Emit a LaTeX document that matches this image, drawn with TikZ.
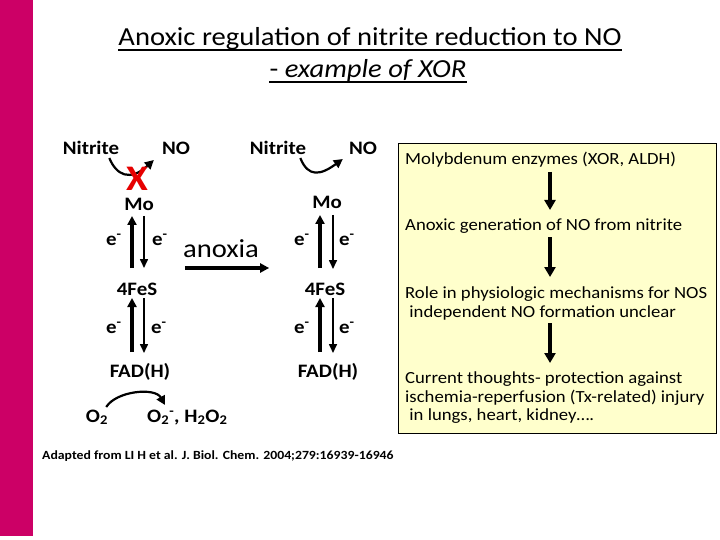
\documentclass[tikz,border=0pt]{standalone}
\usepackage{fontspec}
\setmainfont{Carlito}[FakeStretch=1.1]
\usetikzlibrary{arrows.meta,calc}
\definecolor{barmag}{RGB}{204,0,102}
\definecolor{xred}{RGB}{230,0,0}
\definecolor{boxyel}{RGB}{255,255,204}
\tikzset{
 lbl/.style={anchor=base,inner sep=0pt,font=\fontsize{19}{22}\selectfont\bfseries},
 elbl/.style={anchor=base west,inner sep=0pt,font=\fontsize{19}{22}\selectfont\bfseries},
 boxtxt/.style={anchor=base west,inner sep=0pt,font=\fontsize{17}{20}\selectfont},
 titletxt/.style={anchor=base,inner sep=0pt,font=\fontsize{26}{30}\selectfont},
 uparr/.style={-{Triangle[length=9pt,width=9pt]}, line width=3.2pt},
 dnarr/.style={-{Triangle[length=9pt,width=8pt]}, line width=1.6pt},
 curv/.style={-{Triangle[length=9pt,width=9pt]}, line width=2.2pt},
 boxarr/.style={-{Triangle[length=10pt,width=11pt]}, line width=3.2pt},
 uline/.style={line width=1.8pt},
}
\begin{document}
\begin{tikzpicture}[x=1pt,y=-1pt]
\useasboundingbox (0,0) rectangle (720,540);
\fill[barmag] (0,0) rectangle (33,536);
% title
\node[titletxt] (t1) at (370,46) {Anoxic regulation of nitrite reduction to NO};
\node[titletxt] (t2) at (368,78) {- \textit{example of XOR}};
\draw[uline] ($(t1.base west)+(0,4)$) -- ($(t1.base east)+(0,4)$);
\draw[uline] ($(t2.base west)+(0,4)$) -- ($(t2.base east)+(0,4)$);
% left column
\node[lbl] (nitL) at (91,155) {Nitrite};
\node[lbl] (noL) at (176,155) {NO};
\node[lbl] (moL) at (139,211) {Mo};
\node[lbl] (feL) at (137,295) {4FeS};
\node[lbl] (fadL) at (140,377) {FAD(H)};
\node[elbl] (e1) at (106,245) {e\textsuperscript{-}};
\node[elbl] (e2) at (152,245) {e\textsuperscript{-}};
\node[elbl] (e3) at (106,333) {e\textsuperscript{-}};
\node[elbl] (e4) at (151,333) {e\textsuperscript{-}};
\node[lbl] (o2) at (97,422) {O\textsubscript{2}};
\node[elbl] (o2m) at (147,422) {O\textsubscript{2}\textsuperscript{-}, H\textsubscript{2}O\textsubscript{2}};
\draw[curv] ($(nitL.base east)+(-10,3)$) .. controls +(7,17) and +(-24,22) .. ($(noL.base west)+(-8,5)$);
\node[anchor=base,inner sep=0pt,text=xred,font=\fontsize{36}{40}\selectfont\bfseries] (xx) at (137,191) {X};
\draw[uparr] ($(feL.base)+(-5,-27)$) -- ($(moL.base)+(-7,5)$);
\draw[dnarr] ($(moL.base)+(5,5)$) -- ($(feL.base)+(7,-27)$);
\draw[uparr] ($(fadL.base)+(-8,-25)$) -- ($(feL.base)+(-5,3)$);
\draw[dnarr] ($(feL.base)+(7,3)$) -- ($(fadL.base)+(4,-24)$);
\draw[curv] ($(o2.base east)+(-2,-15)$) .. controls +(10,-16) and +(-10,-18) .. ($(o2m.base west)+(18,-17)$);
% anoxia
\node[anchor=base,inner sep=0pt,font=\fontsize{26}{30}\selectfont] (anox) at (221,257) {anoxia};
\draw[uparr] ($(anox.base west)+(2,11)$) -- ($(anox.base east)+(10,11)$);
% right column
\node[lbl] (nitR) at (278,155) {Nitrite};
\node[lbl] (noR) at (363,155) {NO};
\node[lbl] (moR) at (327,209) {Mo};
\node[lbl] (feR) at (325,295) {4FeS};
\node[lbl] (fadR) at (328,377) {FAD(H)};
\node[elbl] (e5) at (294,245) {e\textsuperscript{-}};
\node[elbl] (e6) at (339,245) {e\textsuperscript{-}};
\node[elbl] (e7) at (294,333) {e\textsuperscript{-}};
\node[elbl] (e8) at (339,333) {e\textsuperscript{-}};
\draw[curv] ($(nitR.base east)+(-6,3)$) .. controls +(8,20) and +(-22,16) .. ($(noR.base west)+(-6,4)$);
\draw[uparr] ($(feR.base)+(-5,-27)$) -- ($(moR.base)+(-7,6)$);
\draw[dnarr] ($(moR.base)+(6,6)$) -- ($(feR.base)+(8,-26)$);
\draw[uparr] ($(fadR.base)+(-8,-25)$) -- ($(feR.base)+(-5,3)$);
\draw[dnarr] ($(feR.base)+(8,3)$) -- ($(fadR.base)+(5,-24)$);
% box
\node[draw=black,line width=0.8pt,fill=boxyel,minimum width=318pt,minimum height=290pt,anchor=north west,inner sep=0pt] (box) at (398,143) {};
\node[boxtxt] (b1) at (405,165) {Molybdenum enzymes (XOR, ALDH)};
\node[boxtxt] (b2) at (405,230) {Anoxic generation of NO from nitrite};
\node[boxtxt] (b3) at (405,298) {Role in physiologic mechanisms for NOS};
\node[boxtxt] (b3b) at (405,317) {\ independent NO formation unclear};
\node[boxtxt] (b4) at (405,383) {Current thoughts- protection against};
\node[boxtxt] (b4b) at (405,402) {ischemia-reperfusion (Tx-related) injury};
\node[boxtxt] (b4c) at (405,420) {\ in lungs, heart, kidney….};
\draw[boxarr] ($(b1.base west)+(145,7)$) -- ($(b2.base west)+(145,-20)$);
\draw[boxarr] ($(b2.base west)+(145,7)$) -- ($(b3.base west)+(145,-21)$);
\draw[boxarr] ($(b3b.base west)+(145,6)$) -- ($(b4.base west)+(145,-20)$);
% footer
\node[anchor=base west,inner sep=0pt,font=\fontsize{12.5}{14}\selectfont\bfseries] (foot) at (42,459) {Adapted from LI H et al. J. Biol. Chem. 2004;279:16939-16946};
\end{tikzpicture}
\end{document}
